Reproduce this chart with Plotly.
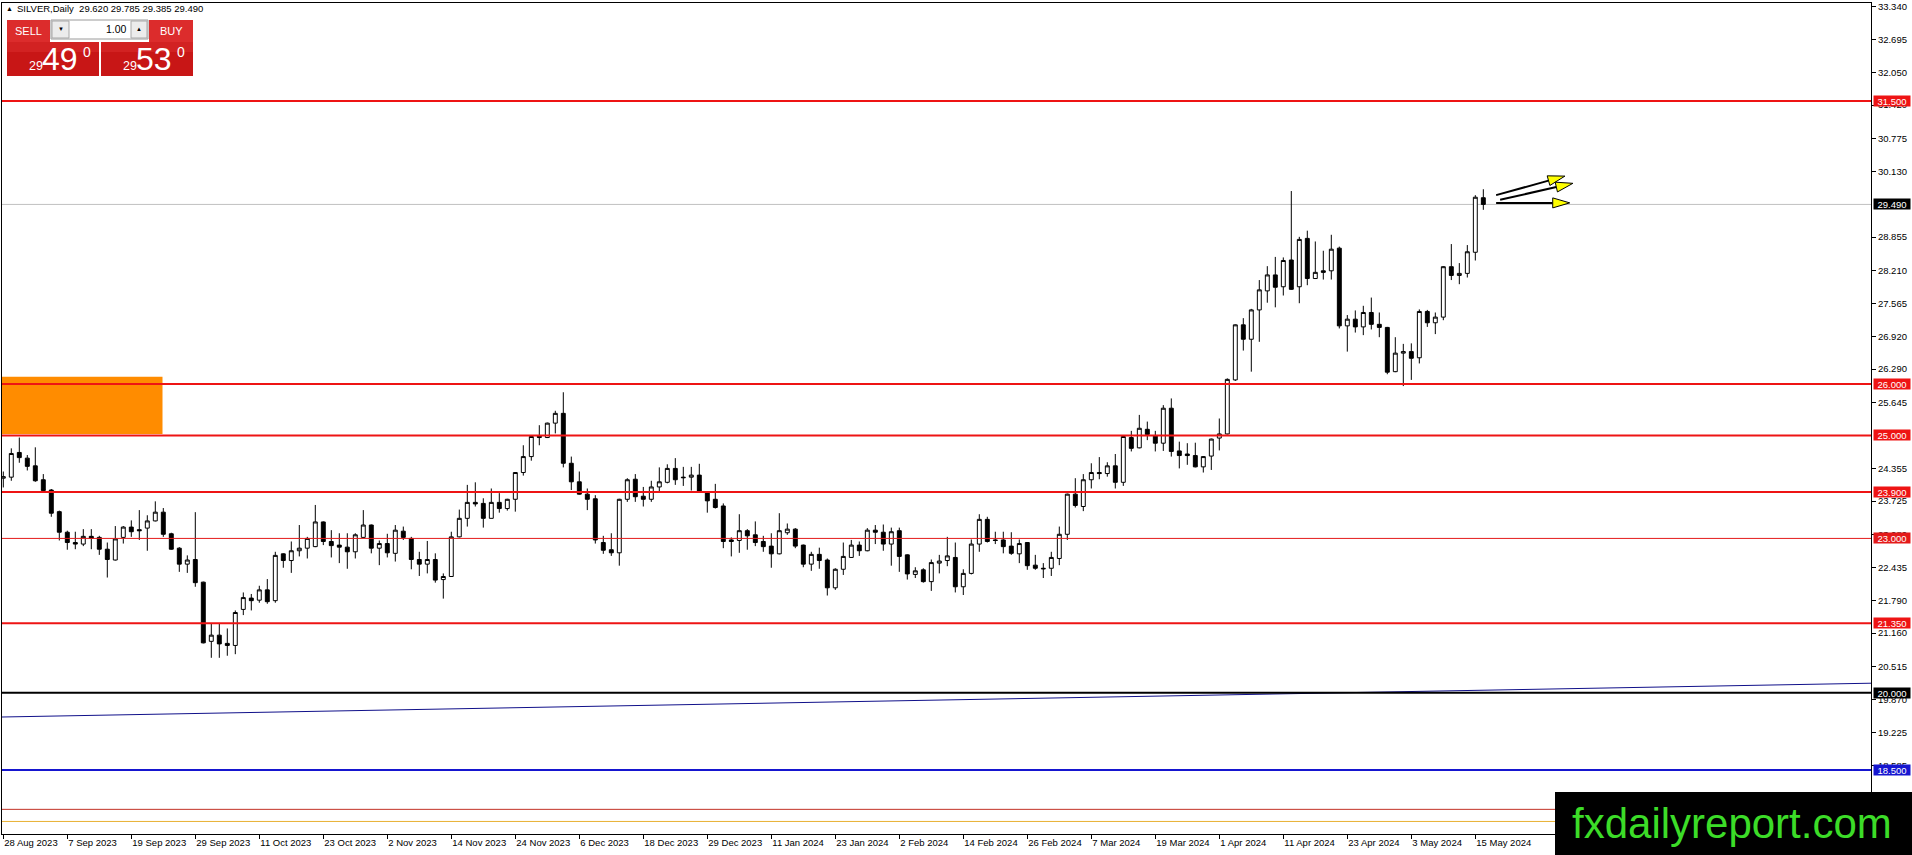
import math
import plotly.graph_objects as go

# SILVER daily candles, 28 Aug 2023 .. 16 May 2024, one entry per trading day
opens = [
    24.17, 24.19, 24.67, 24.56, 24.41, 24.14, 23.94, 23.52, 23.12, 22.92,
    22.89, 23.04, 23.02, 22.79, 22.58, 23.02, 23.22, 23.17, 23.20, 23.34,
    23.51, 23.09, 22.81, 22.50, 22.59, 22.15, 21.00, 21.12, 20.96, 20.92,
    21.62, 21.84, 21.80, 22.00, 21.79, 22.70, 22.57, 22.76, 22.81, 22.84,
    23.32, 22.94, 22.87, 22.83, 22.74, 23.02, 23.26, 22.81, 22.90, 22.71,
    23.14, 23.00, 22.59, 22.50, 22.59, 22.20, 22.26, 23.03, 23.39, 23.70,
    23.68, 23.39, 23.70, 23.58, 23.76, 24.28, 24.59, 24.99, 24.96, 25.24,
    25.43, 24.46, 24.10, 23.86, 23.77, 22.92, 22.78, 22.72, 23.76, 24.15,
    23.82, 23.76, 24.00, 24.09, 24.36, 24.19, 24.19, 24.23, 23.91, 23.76,
    23.63, 22.97, 22.96, 23.15, 23.07, 22.94, 22.85, 22.70, 23.11, 23.18,
    22.87, 22.50, 22.69, 22.58, 22.04, 22.40, 22.63, 22.87, 22.76, 23.16,
    23.12, 22.89, 23.15, 22.68, 22.30, 22.39, 22.16, 22.52, 22.57, 22.63,
    22.06, 22.32, 22.89, 23.37, 22.97, 22.97, 22.85, 22.70, 22.92, 22.48,
    22.42, 22.42, 22.61, 23.08, 23.86, 23.62, 24.14, 24.28, 24.26, 24.41,
    24.09, 24.96, 24.76, 25.12, 24.99, 24.85, 25.53, 24.70, 24.64, 24.61,
    24.39, 24.60, 24.95, 25.03, 26.08, 27.15, 26.87, 27.44, 27.81, 28.12,
    27.89, 28.41, 27.89, 28.83, 28.05, 28.20, 28.20, 28.64, 27.13, 27.26,
    27.11, 27.39, 27.16, 27.10, 26.24, 26.60, 26.63, 26.51, 27.41, 27.19,
    27.30, 28.28, 28.11, 28.15, 28.56, 29.62,
]
highs = [
    24.30, 24.75, 24.96, 24.62, 24.77, 24.25, 23.96, 23.54, 23.15, 23.13,
    23.18, 23.18, 23.05, 22.92, 23.24, 23.24, 23.35, 23.55, 23.45, 23.72,
    23.59, 23.11, 22.83, 22.67, 23.51, 22.16, 21.34, 21.34, 21.25, 21.60,
    21.95, 21.92, 22.08, 22.21, 22.74, 22.71, 22.94, 23.26, 23.03, 23.65,
    23.33, 23.16, 23.10, 23.10, 23.10, 23.55, 23.27, 22.96, 23.09, 23.26,
    23.23, 23.03, 22.74, 22.95, 22.71, 22.32, 23.13, 23.56, 24.04, 24.09,
    23.78, 23.97, 23.88, 23.77, 24.29, 24.81, 24.99, 25.20, 25.25, 25.48,
    25.84, 24.59, 24.30, 23.97, 23.84, 23.05, 23.10, 23.77, 24.17, 24.25,
    24.00, 24.12, 24.38, 24.44, 24.56, 24.39, 24.39, 24.45, 23.92, 24.06,
    23.68, 23.02, 23.47, 23.18, 23.33, 23.05, 23.10, 23.49, 23.29, 23.20,
    22.88, 22.74, 22.82, 22.61, 22.42, 22.92, 22.97, 22.94, 23.20, 23.26,
    23.27, 23.21, 23.21, 22.69, 22.44, 22.42, 22.59, 22.68, 23.03, 22.92,
    22.40, 22.98, 23.47, 23.42, 23.13, 23.13, 23.12, 22.98, 22.93, 22.68,
    22.52, 22.74, 23.23, 23.87, 24.17, 24.25, 24.46, 24.58, 24.48, 24.64,
    24.99, 25.09, 25.40, 25.27, 25.09, 25.59, 25.72, 24.88, 24.85, 24.86,
    24.60, 24.94, 25.33, 26.11, 27.16, 27.28, 27.46, 28.02, 28.29, 28.47,
    28.46, 29.75, 28.86, 28.98, 28.77, 28.59, 28.90, 28.67, 27.34, 27.43,
    27.52, 27.68, 27.39, 27.11, 26.91, 26.78, 26.79, 27.45, 27.44, 27.39,
    28.29, 28.72, 28.35, 28.70, 29.67, 29.785,
]
lows = [
    23.99, 24.12, 24.47, 24.32, 24.10, 23.91, 23.42, 22.96, 22.78, 22.79,
    22.85, 22.79, 22.68, 22.24, 22.57, 22.90, 23.03, 22.97, 22.76, 23.33,
    23.03, 22.78, 22.35, 22.33, 22.06, 20.96, 20.68, 20.68, 20.72, 20.75,
    21.51, 21.60, 21.75, 21.73, 21.75, 22.43, 22.33, 22.65, 22.61, 22.83,
    22.87, 22.63, 22.52, 22.41, 22.61, 23.01, 22.71, 22.48, 22.63, 22.55,
    22.97, 22.40, 22.27, 22.32, 22.14, 21.83, 22.25, 23.02, 23.23, 23.62,
    23.21, 23.39, 23.50, 23.54, 23.52, 24.22, 24.51, 24.81, 24.95, 25.04,
    24.38, 23.94, 23.85, 23.55, 22.90, 22.70, 22.66, 22.47, 23.71, 23.71,
    23.62, 23.71, 23.91, 24.07, 24.04, 24.02, 23.93, 23.91, 23.50, 23.58,
    22.81, 22.65, 22.72, 22.78, 22.85, 22.74, 22.43, 22.69, 23.07, 22.81,
    22.44, 22.37, 22.41, 21.89, 22.00, 22.29, 22.62, 22.66, 22.75, 22.89,
    22.76, 22.47, 22.35, 22.20, 22.23, 22.14, 21.98, 22.32, 22.46, 21.95,
    21.90, 22.30, 22.74, 22.92, 22.89, 22.71, 22.68, 22.52, 22.39, 22.39,
    22.23, 22.27, 22.48, 22.97, 23.60, 23.53, 23.97, 24.15, 24.20, 23.97,
    24.02, 24.69, 24.75, 24.91, 24.69, 24.70, 24.59, 24.36, 24.43, 24.38,
    24.28, 24.33, 24.71, 25.02, 26.06, 26.65, 26.24, 26.82, 27.58, 27.49,
    27.72, 27.83, 27.57, 27.92, 28.04, 28.03, 28.03, 27.08, 26.63, 27.00,
    26.95, 27.06, 26.91, 26.19, 26.23, 25.96, 26.08, 26.40, 27.11, 26.97,
    27.24, 28.02, 27.94, 28.07, 28.40, 29.385,
]
closes = [
    24.20, 24.65, 24.57, 24.40, 24.12, 23.93, 23.49, 23.12, 22.92, 22.89,
    23.04, 23.00, 22.79, 22.59, 22.99, 23.22, 23.13, 23.15, 23.34, 23.51,
    23.08, 22.79, 22.50, 22.58, 22.14, 20.97, 21.12, 20.95, 20.92, 21.56,
    21.85, 21.79, 22.00, 21.77, 22.67, 22.57, 22.76, 22.81, 23.00, 23.32,
    22.94, 22.86, 22.83, 22.74, 23.07, 23.26, 22.81, 22.90, 22.72, 23.16,
    23.02, 22.59, 22.50, 22.59, 22.19, 22.26, 23.03, 23.39, 23.70, 23.67,
    23.39, 23.70, 23.58, 23.76, 24.28, 24.59, 24.98, 24.96, 25.24, 25.43,
    24.46, 24.10, 23.86, 23.76, 22.97, 22.77, 22.72, 23.76, 24.14, 23.81,
    23.76, 24.00, 24.10, 24.36, 24.14, 24.18, 24.23, 23.92, 23.73, 23.60,
    22.94, 22.94, 23.15, 23.05, 22.92, 22.84, 22.70, 23.15, 23.18, 22.85,
    22.50, 22.69, 22.57, 22.04, 22.40, 22.65, 22.87, 22.76, 23.16, 23.12,
    22.89, 23.13, 22.65, 22.31, 22.37, 22.16, 22.53, 22.56, 22.66, 22.06,
    22.32, 22.89, 23.37, 22.94, 22.96, 22.84, 22.71, 22.90, 22.47, 22.42,
    22.41, 22.63, 23.08, 23.86, 23.64, 24.14, 24.28, 24.26, 24.41, 24.09,
    24.98, 24.75, 25.14, 25.02, 24.85, 25.53, 24.69, 24.61, 24.61, 24.39,
    24.59, 24.93, 25.03, 26.09, 27.15, 26.87, 27.44, 27.83, 28.12, 27.88,
    28.40, 27.84, 28.81, 28.05, 28.17, 28.17, 28.62, 27.13, 27.26, 27.11,
    27.39, 27.16, 27.10, 26.23, 26.60, 26.63, 26.50, 27.41, 27.19, 27.30,
    28.28, 28.11, 28.15, 28.57, 29.63, 29.49,
]

# time axis labels, one every 8 bars
date_labels = [
    "28 Aug 2023", "7 Sep 2023", "19 Sep 2023", "29 Sep 2023", "11 Oct 2023",
    "23 Oct 2023", "2 Nov 2023", "14 Nov 2023", "24 Nov 2023", "6 Dec 2023",
    "18 Dec 2023", "29 Dec 2023", "11 Jan 2024", "23 Jan 2024", "2 Feb 2024",
    "14 Feb 2024", "26 Feb 2024", "7 Mar 2024", "19 Mar 2024", "1 Apr 2024",
    "11 Apr 2024", "23 Apr 2024", "3 May 2024", "15 May 2024",
]
label_step = 8

# price scale labels (those fully covered by level tags are left out)
price_ticks = [
    33.340, 32.695, 32.050, 31.420, 30.775, 30.130, 28.855, 28.210,
    27.565, 26.920, 26.290, 25.645, 24.355, 23.725, 23.080, 22.435,
    21.790, 21.160, 20.515, 19.870, 19.225, 18.585,
]

# horizontal levels drawn on the chart
level_prices = [31.5, 26.0, 25.0, 23.9, 23.0, 21.35, 20.0, 18.5, 17.735, 17.50]
level_colors = ["#ee1414", "#ee1414", "#ee1414", "#ee1414", "#e41a1a", "#ee1414",
                "#000000", "#1616d0", "#c23226", "#e8b030"]
level_widths = [2, 2, 2, 2, 1, 2, 2, 2, 1, 1]
level_tagged = [True, True, True, True, True, True, True, True, False, False]

last_price = 29.49
bid, ask, lot = 29.490, 29.530, "1.00"

# supply zone (orange box) and rising trendline
zone_x = [-5, 19.9]
zone_y = [25.03, 26.14]
trend_x = [0, 185]
trend_y = [19.53, 20.05]

# yellow arrows after the last candle
arrow_from_x = [186.6, 187.1, 186.6]
arrow_from_y = [29.67, 29.58, 29.52]
arrow_to_x = [195.2, 196.2, 195.8]
arrow_to_y = [30.04, 29.90, 29.52]

W, H = 1912, 855
M_L, M_R, M_T, M_B = 2, 41, 3, 21
PW, PH = W - M_L - M_R, H - M_T - M_B
X_RANGE = [-0.1625, 233.46]
Y_RANGE = [17.256, 33.404]
FONT = "Liberation Sans"


def fx(px):
    return (px - M_L) / PW


def fy(py):
    return 1 - (py - M_T) / PH


def box(x0, y0, x1, y1, fill, line=None):
    return dict(type="rect", xref="paper", yref="paper", layer="above",
                x0=fx(x0), x1=fx(x1), y0=fy(y0), y1=fy(y1), fillcolor=fill,
                line=dict(color=line or fill, width=1 if line else 0))


def text(px, py, s, size, color="white", anchor="left"):
    return dict(x=fx(px), y=fy(py), xref="paper", yref="paper", text=s,
                showarrow=False, xanchor=anchor, yanchor="middle",
                font=dict(family=FONT, size=size, color=color))


def tag(price, color):
    return dict(x=fx(1873), y=price, xref="paper", yref="y",
                text=f"{price:.3f}", showarrow=False, xanchor="left",
                yanchor="middle", width=36, height=10, borderpad=0,
                bgcolor=color, font=dict(family=FONT, size=9.5, color="white"))


fig = go.Figure()

fig.add_trace(go.Candlestick(
    x=list(range(len(opens))), open=opens, high=highs, low=lows, close=closes,
    increasing=dict(line=dict(color="black", width=1), fillcolor="white"),
    decreasing=dict(line=dict(color="black", width=1), fillcolor="black"),
    whiskerwidth=0, hoverinfo="skip", showlegend=False,
))

shapes = []
annotations = []

# zone box behind candles
shapes.append(dict(type="rect", xref="x", yref="y", layer="below",
                   x0=zone_x[0], x1=zone_x[1], y0=zone_y[0], y1=zone_y[1],
                   fillcolor="#ff8c00", line=dict(width=0)))

# current price line
shapes.append(dict(type="line", xref="paper", yref="y", layer="below",
                   x0=0, x1=1, y0=last_price, y1=last_price,
                   line=dict(color="#c0c0c0", width=1)))

# trendline extended to both chart edges
slope = (trend_y[1] - trend_y[0]) / (trend_x[1] - trend_x[0])
shapes.append(dict(type="line", xref="x", yref="y", layer="above",
                   x0=X_RANGE[0], x1=X_RANGE[1],
                   y0=trend_y[0] + slope * (X_RANGE[0] - trend_x[0]),
                   y1=trend_y[0] + slope * (X_RANGE[1] - trend_x[0]),
                   line=dict(color="#10108a", width=1)))

for p, c, w, tagged in zip(level_prices, level_colors, level_widths, level_tagged):
    shapes.append(dict(type="line", xref="paper", yref="y", layer="above",
                       x0=0, x1=1, y0=p, y1=p, line=dict(color=c, width=w)))
    if tagged:
        annotations.append(tag(p, c))

annotations.append(tag(last_price, "black"))

# arrows: black shaft with a yellow head
sx = PW / (X_RANGE[1] - X_RANGE[0])
sy = PH / (Y_RANGE[1] - Y_RANGE[0])
HEAD_LEN, HEAD_W = 17, 5
for tx, ty, hx, hy in zip(arrow_from_x, arrow_from_y, arrow_to_x, arrow_to_y):
    dx, dy = (hx - tx) * sx, (hy - ty) * sy
    ln = math.hypot(dx, dy)
    ux, uy = dx / ln, dy / ln
    nx, ny = -uy, ux
    bx, by = hx - HEAD_LEN * ux / sx, hy - HEAD_LEN * uy / sy
    p1 = (bx + HEAD_W * nx / sx, by + HEAD_W * ny / sy)
    p2 = (bx - HEAD_W * nx / sx, by - HEAD_W * ny / sy)
    shapes.append(dict(type="line", xref="x", yref="y", layer="above",
                       x0=tx, y0=ty, x1=bx, y1=by, line=dict(color="black", width=2)))
    shapes.append(dict(type="path", xref="x", yref="y", layer="above",
                       path=f"M {hx},{hy} L {p1[0]},{p1[1]} L {p2[0]},{p2[1]} Z",
                       fillcolor="#ffff00", line=dict(color="black", width=1)))

# watermark
shapes.append(box(1555, 792, 1915, 858, "black"))
annotations.append(text(1570, 823, "fxdailyreport.com", 42, "#3cdc28"))

# header line
annotations.append(text(4, 8, "▲", 7, "black"))
annotations.append(text(15, 8, f"SILVER,Daily  {opens[-1]:.3f} {highs[-1]:.3f} "
                          f"{lows[-1]:.3f} {closes[-1]:.3f}", 9.5, "black"))

# one-click trading panel
shapes += [
    box(7, 20, 50, 42, "#dc2c2c"),
    box(149, 20, 193, 42, "#dc2c2c"),
    box(7, 42, 99, 76, "#c81616"),
    box(101, 42, 193, 76, "#c81616"),
    box(7, 42, 99, 52, "#d22222"),
    box(101, 42, 193, 52, "#d22222"),
    box(51, 20, 148, 39, "white", "#9a9a9a"),
    box(52, 21, 69, 38, "#ececec", "#a8a8a8"),
    box(131, 21, 147, 38, "#ececec", "#a8a8a8"),
]
annotations += [
    text(28.5, 31, "SELL", 11, anchor="center"),
    text(171, 31, "BUY", 11, anchor="center"),
    text(60.5, 29.5, "▼", 6, "black", "center"),
    text(139, 29.5, "▲", 6, "black", "center"),
    text(129, 29.5, lot, 10.5, "black", "right"),
]
for x0, price in [(27, bid), (121, ask)]:
    s = f"{price:.3f}"
    annotations += [
        text(x0, 66, s[:2], 12.5),
        text(x0 + 13, 58.5, s[3:5], 32),
        text(x0 + 54, 52, s[5], 14),
    ]

fig.update_layout(
    width=W, height=H,
    template="none",
    margin=dict(l=M_L, r=M_R, t=M_T, b=M_B, pad=0),
    paper_bgcolor="white",
    plot_bgcolor="white",
    showlegend=False,
    font=dict(family=FONT, size=9.5, color="black"),
    xaxis=dict(
        range=X_RANGE, showgrid=False, zeroline=False, automargin=False,
        tickvals=[i * label_step for i in range(len(date_labels))],
        ticktext=date_labels, ticks="outside", ticklen=4, tickcolor="black",
        ticklabelposition="outside right",
        showline=True, mirror=True, linecolor="black", linewidth=1,
        rangeslider=dict(visible=False),
        tickfont=dict(family=FONT, size=9.5, color="black"),
    ),
    yaxis=dict(
        range=Y_RANGE, side="right", showgrid=False, zeroline=False,
        automargin=False, tickvals=price_ticks,
        ticktext=[f"{v:.3f}" for v in price_ticks],
        ticks="outside", ticklen=4, tickcolor="black",
        showline=True, mirror=True, linecolor="black", linewidth=1,
        tickfont=dict(family=FONT, size=9.5, color="black"),
    ),
    shapes=shapes,
    annotations=annotations,
)

fig.write_html(
    "out.html",
    config={"displayModeBar": False},
    post_script="document.body.style.margin='0';document.body.style.overflow='hidden';",
)
